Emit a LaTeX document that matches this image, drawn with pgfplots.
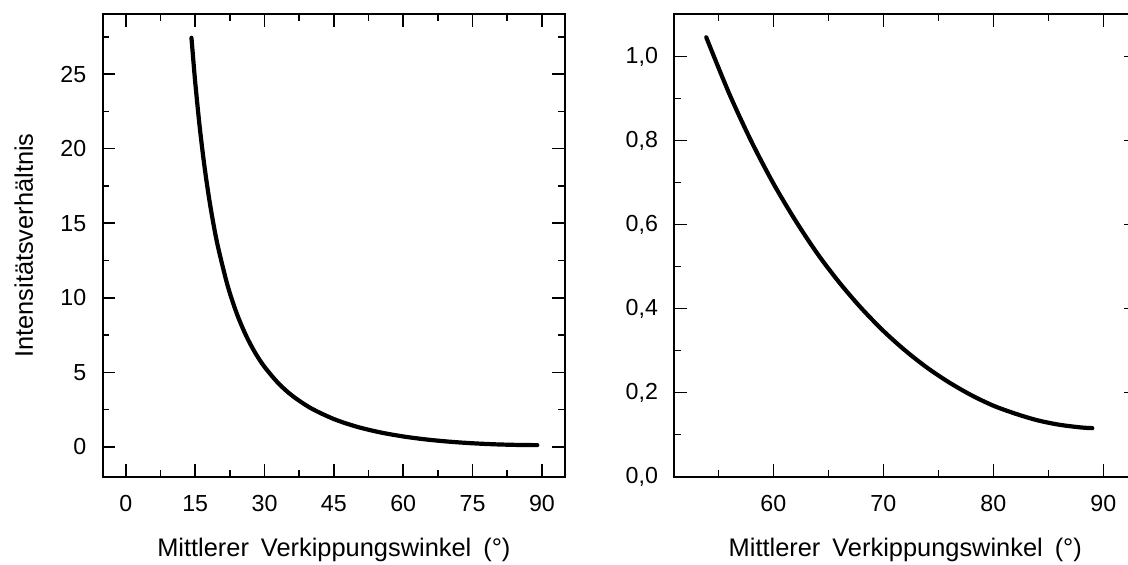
\documentclass[border=0pt]{standalone}
\usepackage{fontspec}
\setmainfont{Liberation Sans}
\usepackage{pgfplots}
\pgfplotsset{compat=1.18}
\newcommand\tickfont{\fontsize{11.6pt}{14pt}\selectfont}
\newcommand\labfont{\fontsize{12.7pt}{15pt}\selectfont}
\pgfplotsset{
  myaxis/.style={
    anchor=south west, scale only axis,
    height=231.15pt,
    tick align=inside,
    major tick length=6.3pt, minor tick length=3.3pt,
    every tick/.style={black, line width=0.8pt},
    axis line style={line width=1pt},
    every tick label/.append style={inner sep=0pt},
    every x tick label/.append style={anchor=base, yshift=-17.5pt},
    every y tick label/.append style={anchor=east, xshift=-8pt},
    xticklabel={\tickfont\pgfmathprintnumber[assume math mode=true]{\tick}},
    every axis x label/.style={at={(axis description cs:0.5,-0.173)}, anchor=base, font=\labfont},
    every axis y label/.style={at={(axis description cs:-0.151,0.5)}, anchor=base, rotate=90, font=\labfont},
    clip=false,
  }
}
\begin{document}
\begin{tikzpicture}
\useasboundingbox (0,0) rectangle (564pt,282.5pt);
\begin{axis}[myaxis,
  at={(51.35pt,44.15pt)}, width=231.15pt,
  xmin=-5, xmax=95, ymin=-2, ymax=29,
  xtick={0,15,30,45,60,75,90},
  minor xtick={7.5,22.5,37.5,52.5,67.5,82.5},
  ytick={0,5,10,15,20,25},
  minor ytick={2.5,7.5,12.5,17.5,22.5,27.5},
  yticklabel={\tickfont\pgfmathprintnumber[assume math mode=true]{\tick}},
  xlabel={Mittlerer\hspace{6pt}Verkippungswinkel\hspace{6pt}(°)},
  ylabel={Intensitätsverhältnis},
]
\addplot[black, line width=2.1pt, line cap=round, smooth] coordinates {
(14.2,27.43) (15,24.49) (16,21.40) (17,18.84) (18,16.69) (19,14.87)
(20,13.33) (22,10.83) (24,8.94) (26,7.47) (28,6.30) (30,5.365)
(33,4.265) (36,3.43) (40,2.60) (45,1.865) (50,1.347) (55,0.973)
(60,0.698) (65,0.495) (70,0.347) (75,0.241) (80,0.169) (85,0.128) (89,0.1155)
};
\end{axis}
\begin{axis}[myaxis,
  at={(337.15pt,44.15pt)}, width=231pt,
  xmin=51, xmax=93, ymin=0, ymax=1.1,
  xtick={60,70,80,90},
  minor xtick={55,65,75,85},
  ytick={0,0.2,0.4,0.6,0.8,1.0},
  minor ytick={0.1,0.3,0.5,0.7,0.9},
  yticklabel={\tickfont\pgfmathprintnumber[assume math mode=true,fixed,fixed zerofill,precision=1,use comma]{\tick}},
  xlabel={Mittlerer\hspace{6pt}Verkippungswinkel\hspace{6pt}(°)},
]
\addplot[black, line width=2.1pt, line cap=round, smooth] coordinates {
(53.9,1.0456) (56,0.911) (58,0.798) (60,0.698) (62,0.610) (64,0.531)
(66,0.462) (68,0.401) (70,0.347) (72,0.300) (74,0.259) (76,0.224)
(78,0.194) (80,0.169) (82,0.150) (84,0.1343) (86,0.1236) (88,0.1171) (89,0.1155)
};
\end{axis}
\end{tikzpicture}
\end{document}
